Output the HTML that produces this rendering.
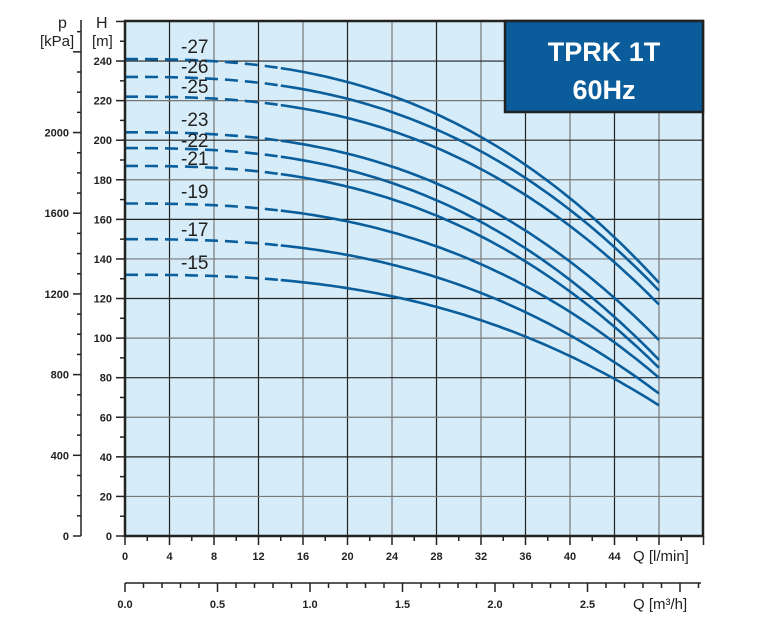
<!DOCTYPE html>
<html><head><meta charset="utf-8"><style>
body{margin:0;background:#fff}
svg{display:block;font-family:"Liberation Sans",sans-serif}
</style></head><body>
<svg id="s" width="764" height="628" viewBox="0 0 764 628" xmlns="http://www.w3.org/2000/svg">
<rect x="125" y="21" width="578" height="515" fill="#d6ecf8"/>
<g id="grid" stroke="#3a3a3a" stroke-width="1.2"></g>
<g id="curves" fill="none" stroke="#0b5e9c" stroke-width="2.6"></g>
<g id="labels" font-size="19" fill="#222"></g>
<rect x="125" y="21" width="578" height="515" fill="none" stroke="#222" stroke-width="2.5"/>
<rect x="505" y="21" width="198" height="91" fill="#0a5c9a" stroke="#222" stroke-width="2.5"/>
<text x="604" y="61" text-anchor="middle" font-size="27" font-weight="bold" fill="#fff">TPRK 1T</text>
<text x="604" y="99" text-anchor="middle" font-size="27" font-weight="bold" fill="#fff">60Hz</text>
<g id="axes" stroke="#222" stroke-width="1.5" fill="#222" font-size="11" font-weight="bold"></g>
<text x="58" y="28" font-size="16" fill="#222">p</text>
<text x="40" y="46" font-size="15" fill="#222">[kPa]</text>
<text x="96" y="28" font-size="16" fill="#222">H</text>
<text x="92" y="46" font-size="15" fill="#222">[m]</text>
<text x="633" y="561" font-size="15" fill="#222">Q [l/min]</text>
<text x="633" y="609" font-size="15" fill="#222">Q [m³/h]</text>
</svg>
<script>
const NS="http://www.w3.org/2000/svg";
function el(p,t,a,txt){const e=document.createElementNS(NS,t);for(const k in a)e.setAttribute(k,a[k]);if(txt!==undefined)e.textContent=txt;document.getElementById(p).appendChild(e);return e;}
const X=q=>125+q*11.125, Y=h=>536-h*1.979;
for(let q=4;q<=48;q+=4)el("grid","line",{x1:X(q),y1:21,x2:X(q),y2:536,stroke:q%8?"#222":"#777"});
for(let h=20;h<=260;h+=20)el("grid","line",{x1:125,y1:Y(h),x2:703,y2:Y(h),stroke:h%40?"#777":"#222"});
for(let h=0;h<=260;h+=10){const mj=h%20==0;el("axes","line",{x1:mj?116:120,y1:Y(h),x2:125,y2:Y(h)});if(mj&&h<=240)el("axes","text",{x:112,y:Y(h)+4,"text-anchor":"end",stroke:"none"},h);}
el("axes","line",{x1:81,y1:536,x2:81,y2:20});
for(let p=0;p<=2500;p+=100){const y=536-p/9.81*1.979;if(y<20)break;const mj=p%400==0;el("axes","line",{x1:mj?73:77,y1:y,x2:81,y2:y});if(mj&&p<=2000)el("axes","text",{x:69,y:y+4,"text-anchor":"end",stroke:"none"},p);}
for(let q=0;q<=52;q+=2){const mj=q%4==0;el("axes","line",{x1:X(q),y1:536,x2:X(q),y2:mj?545:541});if(mj&&q<=44)el("axes","text",{x:X(q),y:560,"text-anchor":"middle",stroke:"none"},q);}
el("axes","line",{x1:125,y1:583,x2:701,y2:583});
for(let i=0;i<=31;i++){const x=125+i*18.5;if(x>702)break;const mj=i%5==0;el("axes","line",{x1:x,y1:583,x2:x,y2:mj?592:588});if(mj&&i<=25)el("axes","text",{x:x,y:608,"text-anchor":"middle",stroke:"none"},(i/10).toFixed(1));}
const C=[[-27,241,128,46],[-26,232,124,66],[-25,222,117,86],[-23,204,99,119],[-22,196,89,140],[-21,187,85,158],[-19,168,80,191],[-17,150,72,229],[-15,132,66,262]];
for(const [n,h0,h1,ly] of C){
 const f=q=>h0-(h0-h1)*Math.pow(q/48,2.6);
 let d="",s="";
 for(let q=0;q<=14;q+=0.5)d+=(q?"L":"M")+X(q).toFixed(1)+","+Y(f(q)).toFixed(1);
 for(let q=14;q<=48;q+=0.5)s+=(q>14?"L":"M")+X(q).toFixed(1)+","+Y(f(q)).toFixed(1);
 el("curves","path",{d:d,"stroke-dasharray":"13,7"});
 el("curves","path",{d:s});
 el("labels","text",{x:181,y:ly+7},String(n));
}
</script>
</body></html>
